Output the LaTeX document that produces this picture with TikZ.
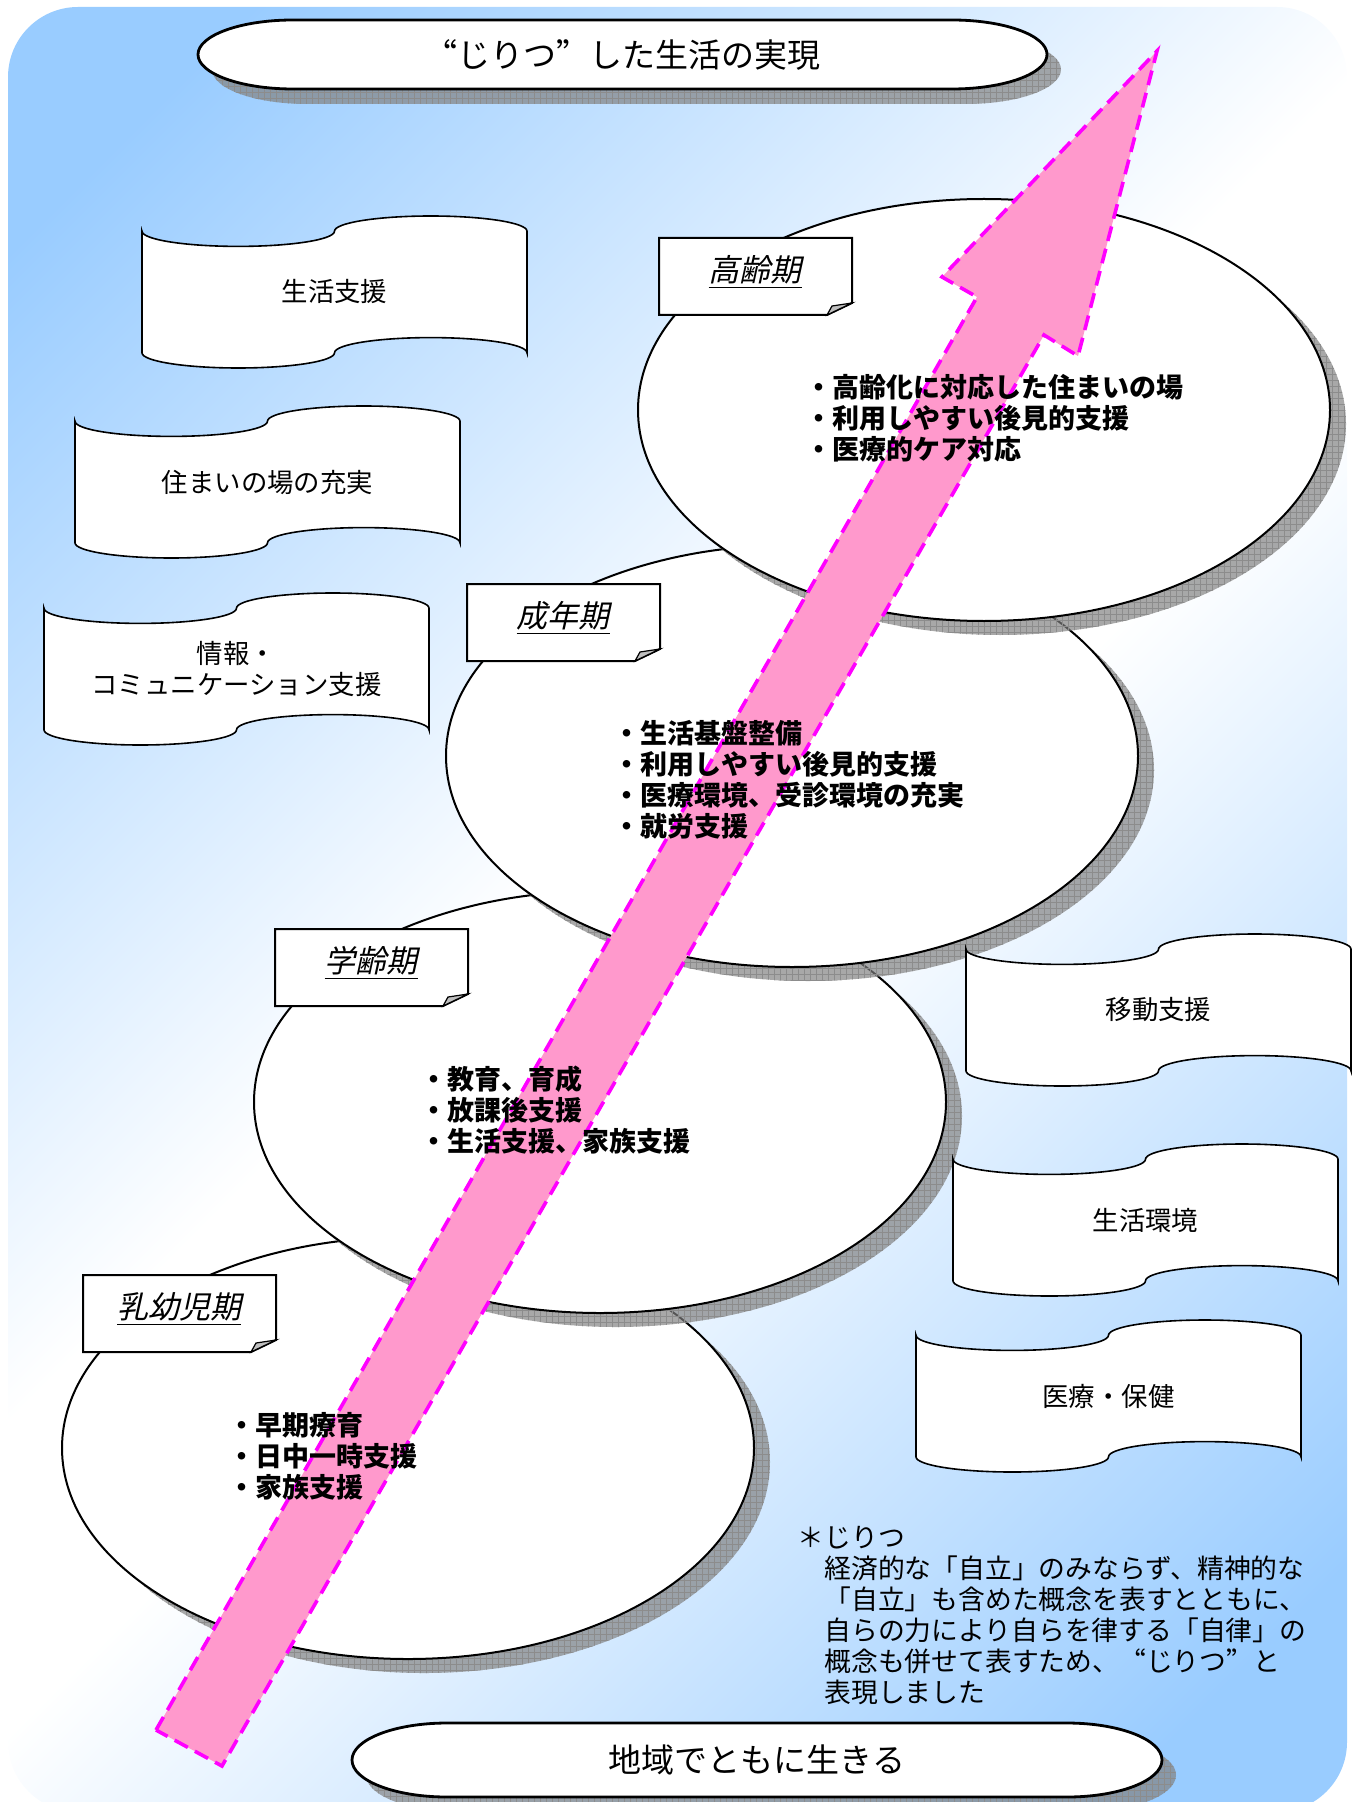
\documentclass[tikz,border=0pt]{standalone}
\usepackage{fontspec}
\setmainfont{Noto Sans CJK JP}
\newfontfamily\jpsl{Noto Sans CJK JP}[FakeSlant=0.22]
\newfontfamily\jpfw{Noto Sans CJK JP}[RawFeature=+fwid]
\usetikzlibrary{patterns}

\definecolor{bgblue}{RGB}{153,204,255}
\definecolor{arrowpink}{RGB}{255,153,204}
\definecolor{arrowmag}{RGB}{255,0,255}
\pgfdeclarehorizontalshading{bgshade}{100bp}{color(0bp)=(bgblue); color(20bp)=(bgblue); color(46.5bp)=(white); color(53.5bp)=(white); color(80bp)=(bgblue); color(100bp)=(bgblue)}

\tikzset{
  banner/.style={draw=black, fill=white, line width=0.8pt},
  bannertext/.style={font=\fontsize{13.2}{15.5}\selectfont, align=center, inner sep=0pt},
  softshadow/.style={fill=black!50, fill opacity=0.68},
  gridshadow/.style={pattern=grid, pattern color=black!45},
  stageline/.style={draw=black, fill=white, line width=1pt},
  tabline/.style={draw=black, fill=white, line width=1pt},
  tabtext/.style={font=\jpsl\fontsize{15.5}{18}\selectfont, inner sep=0pt},
  bullettext/.style={font=\bfseries\fontsize{13.5}{15.5}\selectfont, align=left, inner sep=0pt, anchor=west},
  capsule/.style={draw=black, fill=white, line width=1.4pt},
  bigtext/.style={font=\fontsize{16.5}{19}\selectfont, inner sep=0pt},
  arrowshape/.style={fill=arrowpink, draw=arrowmag, line width=1.8pt, dash pattern=on 7.5pt off 4pt, line join=miter},
  notetext/.style={font=\fontsize{13.4}{15.5}\selectfont, align=left, inner sep=0pt, anchor=north west},
}

% wave banner: name, x0, y0, text  (w=385, h=152)
\newcommand{\wavebox}[4]{%
  \draw[banner] (#2,{#3+15.2})
     arc[start angle=180, end angle=0, x radius=96.25, y radius=15.2]
     arc[start angle=180, end angle=360, x radius=96.25, y radius=15.2]
     -- ({#2+385},{#3+136.8})
     arc[start angle=0, end angle=-180, x radius=96.25, y radius=15.2]
     arc[start angle=0, end angle=180, x radius=96.25, y radius=15.2]
     -- cycle;
  \node[bannertext] (#1) at ({#2+192.5},{#3+76}) {#4};
}

% stage ellipse: cx, cy
\newcommand{\stage}[2]{%
  \fill[softshadow] ({#1+16},{#2+14}) ellipse [x radius=346, y radius=211];
  \fill[gridshadow] ({#1+16},{#2+14}) ellipse [x radius=346, y radius=211];
  \draw[stageline] (#1,#2) ellipse [x radius=346, y radius=211];
}

% tab with folded corner: name, x0, y0, text
\newcommand{\tabbox}[4]{%
  \draw[tabline] (#2,#3) -- ({#2+193},#3) -- ({#2+193},{#3+65}) -- ({#2+168},{#3+77}) -- (#2,{#3+77}) -- cycle;
  \draw[line width=0.6pt, fill=black!25] ({#2+193},{#3+65}) -- ({#2+168},{#3+77}) -- ({#2+173},{#3+68}) -- cycle;
  \node[tabtext] (#1) at ({#2+96},{#3+34}) {\underline{#4}};
}

% capsule: name, x0, y0, x1, y1, ry, text
\newcommand{\capsulebox}[7]{%
  \fill[softshadow] ({#2+95+14},{#3+15}) -- ({#4-95+14},{#3+15})
     arc[start angle=-90, end angle=90, x radius=95, y radius=#6] -- ({#2+95+14},{#5+15})
     arc[start angle=90, end angle=270, x radius=95, y radius=#6] -- cycle;
  \fill[gridshadow] ({#2+95+14},{#3+15}) -- ({#4-95+14},{#3+15})
     arc[start angle=-90, end angle=90, x radius=95, y radius=#6] -- ({#2+95+14},{#5+15})
     arc[start angle=90, end angle=270, x radius=95, y radius=#6] -- cycle;
  \draw[capsule] ({#2+95},#3) -- ({#4-95},#3)
     arc[start angle=-90, end angle=90, x radius=95, y radius=#6] -- ({#2+95},#5)
     arc[start angle=90, end angle=270, x radius=95, y radius=#6] -- cycle;
  \node[bigtext] (#1) at ({(#2+#4)/2},{(#3+#5)/2}) {#7};
}

\begin{document}
\begin{tikzpicture}[x=0.5pt, y=-0.5pt]
\useasboundingbox (0,0) rectangle (1354,1802);

% background
\shade[shading=bgshade, shading angle=-45, rounded corners=35pt] (8,7) rectangle (1347,1812);

% capsules
\capsulebox{goal}{198}{20}{1047}{89}{34.5}{{\jpfw “}じりつ{\jpfw ”}した生活の実現}
\capsulebox{base}{352}{1723}{1162}{1797}{37}{地域でともに生きる}

% stage ellipses (bottom to top)
\stage{408}{1448}
\stage{600}{1102}
\stage{792}{756}
\stage{984}{410}

% tabs
\tabbox{t4}{659}{238}{高齢期}
\tabbox{t3}{467}{584}{成年期}
\tabbox{t2}{275}{929}{学齢期}
\tabbox{t1}{83}{1275}{乳幼児期}

% banners
\wavebox{w1}{142}{216}{生活支援}
\wavebox{w2}{75}{406}{住まいの場の充実}
\wavebox{w3}{44}{593}{情報・\\コミュニケーション支援}
\wavebox{w4}{966}{934}{移動支援}
\wavebox{w5}{953}{1144}{生活環境}
\wavebox{w6}{916}{1320}{医療・保健}

% arrow
\coordinate (tailL) at (156,1730);
\coordinate (notchL) at (977,297);
\coordinate (barbL) at (942,277);
\coordinate (tip) at (1157,51);
\coordinate (barbR) at (1078,356);
\coordinate (notchR) at (1044,335);
\coordinate (tailR) at (222,1766);
\path[arrowshape] (tailL) -- (notchL) -- (barbL) -- (tip) -- (barbR) -- (notchR) -- (tailR) -- cycle;

% bullet texts
\node[bullettext] (b4) at (805,418) {・高齢化に対応した住まいの場\\・利用しやすい後見的支援\\・医療的ケア対応};
\node[bullettext] (b3) at (613,779.5) {・生活基盤整備\\・利用しやすい後見的支援\\・医療環境、受診環境の充実\\・就労支援};
\node[bullettext] (b2) at (420,1110) {・教育、育成\\・放課後支援\\・生活支援、家族支援};
\node[bullettext] (b1) at (228,1456) {・早期療育\\・日中一時支援\\・家族支援};

% note
\node[notetext] (note) at (824,1526) {\llap{＊}じりつ\\経済的な「自立」のみならず、精神的な\\「自立」も含めた概念を表すとともに、\\自らの力により自らを律する「自律」の\\概念も併せて表すため、{\jpfw “}じりつ{\jpfw ”}と\\表現しました};
\end{tikzpicture}
\end{document}
